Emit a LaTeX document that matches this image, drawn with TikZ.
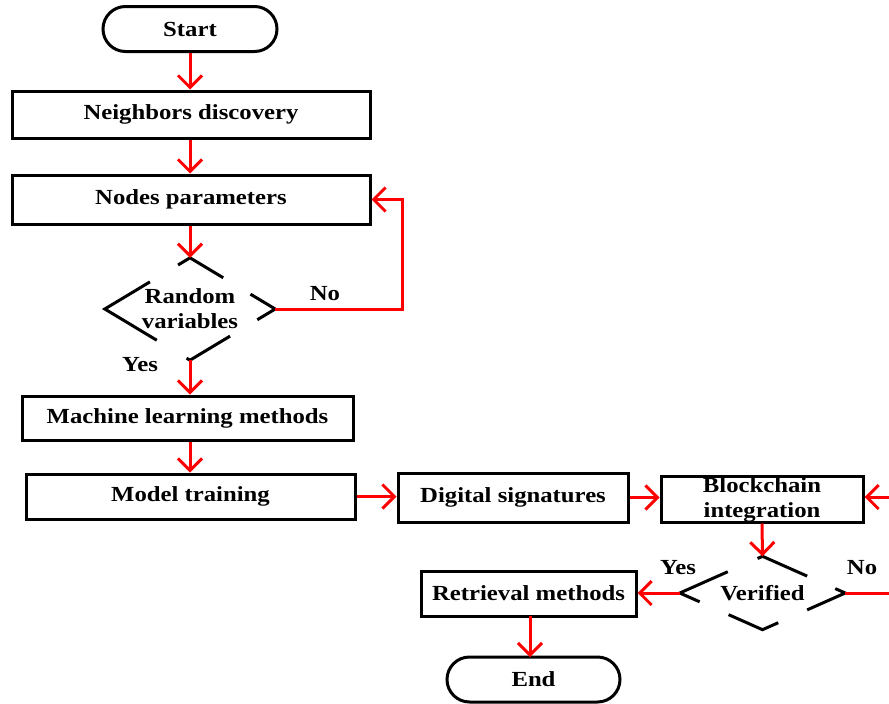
\documentclass[tikz,border=0pt]{standalone}
\usepackage{fontspec}
\setmainfont{Liberation Serif}[FakeStretch=1.15]
\usetikzlibrary{shapes.misc,shapes.geometric,arrows.meta,calc}

\tikzset{
  box/.style={draw, line width=3pt, inner sep=0pt},
  term/.style={draw, rounded rectangle, line width=3pt, inner sep=0pt},
  decide/.style={diamond, inner sep=0pt},
  arr/.style={red, line width=3pt, -{Straight Barb[length=12pt,width=24pt]}},
  seg/.style={line width=3pt},
  lbl/.style={align=center}
}

\begin{document}
\begin{tikzpicture}[x=1pt,y=-1pt,
  every node/.style={font=\bfseries\fontsize{21.5}{25}\selectfont}]
\useasboundingbox (0,0) rectangle (889,704);

% boxes
\node[term, minimum width=174pt, minimum height=45pt] (start) at (190,29) {Start};
\node[box, minimum width=358pt, minimum height=47pt] (neigh) at (191,114.5) {Neighbors discovery};
\node[box, minimum width=358pt, minimum height=49pt] (params) at (191,199.5) {Nodes parameters};
\node[decide, minimum width=170pt, minimum height=102pt] (rv) at (190,309) {};
\node[lbl] (rvtxt) at (rv) {Random\\variables};
\node[box, minimum width=331pt, minimum height=44pt] (ml) at (187.5,418) {Machine learning methods};
\node[box, minimum width=329pt, minimum height=45pt] (model) at (190.5,496.5) {Model training};
\node[box, minimum width=230pt, minimum height=49pt] (digital) at (513,497.5) {Digital signatures};
\node[box, minimum width=202pt, minimum height=46pt] (block) at (762,499) {};
\node[lbl] (blocktxt) at (762,500) {Blockchain\\integration};
\node[decide, minimum width=165pt, minimum height=73pt] (ver) at (762.5,593) {};
\node (vertxt) at (ver) {Verified};
\node[box, minimum width=215pt, minimum height=45pt] (retr) at (528.5,593.5) {Retrieval methods};
\node[term, minimum width=173pt, minimum height=45pt] (end) at (533.5,679.5) {End};

% broken outline of the two decisions
\draw[seg] ($(rv.north)!0.14!(rv.west)$) -- (rv.north) -- ($(rv.north)!0.39!(rv.east)$);
\draw[seg] ($(rv.west)!0.53!(rv.north)$) -- (rv.west) -- ($(rv.west)!0.61!(rv.south)$);
\draw[seg] ($(rv.east)!0.29!(rv.north)$) -- (rv.east) -- ($(rv.east)!0.21!(rv.south)$);
\draw[seg] ($(rv.south)!0.04!(rv.west)$) -- (rv.south) -- ($(rv.south)!0.47!(rv.east)$);
\draw[seg] ($(ver.north)!0.06!(ver.west)$) -- (ver.north) -- ($(ver.north)!0.54!(ver.east)$);
\draw[seg] ($(ver.west)!0.58!(ver.north)$) -- (ver.west) -- ($(ver.west)!0.24!(ver.south)$);
\draw[seg] ($(ver.east)!0.12!(ver.north)$) -- (ver.east) -- ($(ver.east)!0.46!(ver.south)$);
\draw[seg] ($(ver.south)!0.41!(ver.west)$) -- (ver.south) -- ($(ver.south)!0.19!(ver.east)$);

% connectors
\coordinate (rin) at (889,497);
\coordinate (rout) at (889,593);
\draw[arr] (start.south) -- (start.south |- neigh.north);
\draw[arr] (start.south |- neigh.south) -- (start.south |- params.north);
\draw[arr] (rv.north |- params.south) -- (rv.north);
\draw[arr] (rv.east) -- ++(127,0) |- (params.east);
\draw[arr] (rv.south) -- (rv.south |- ml.north);
\draw[arr] (rv.south |- ml.south) -- (rv.south |- model.north);
\draw[arr] (model.east) -- (model.east -| digital.west);
\draw[arr] (digital.east) -- (digital.east -| block.west);
\draw[arr] (rin) -- (rin -| block.east);
\draw[arr] (block.south) -- (ver.north);
\draw[arr] (ver.west) -- (ver.west -| retr.east);
\draw[red, line width=3pt] (ver.east) -- (rout);
\draw[arr] (530,616) -- (530,657);

% branch labels
\node (no1) at (325,294) {No};
\node (yes1) at (140,365) {Yes};
\node (yes2) at (678,568) {Yes};
\node (no2) at (862,568) {No};
\end{tikzpicture}
\end{document}
